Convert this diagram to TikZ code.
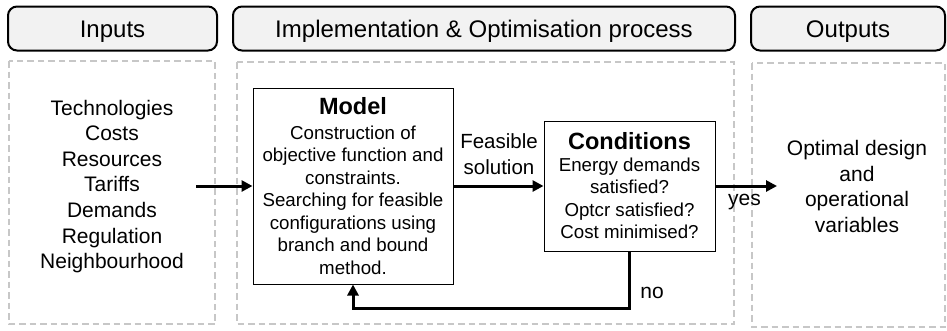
\documentclass[tikz,border=0pt]{standalone}
\usepackage{fontspec}
\setmainfont{Liberation Sans}
\usetikzlibrary{arrows.meta}

% font sizes used across the flow chart
\newcommand{\hdrfont}{\fontsize{24}{28}\selectfont}
\newcommand{\listfont}{\fontsize{21}{25.6}\selectfont}
\newcommand{\bodyfont}{\fontsize{18.7}{22.5}\selectfont}
\newcommand{\ttlfont}{\fontsize{23.5}{27}\selectfont\bfseries}

\tikzset{
  header/.style={draw=black, line width=2pt, rounded corners=9pt, fill=black!5,
    inner sep=0pt, font=\hdrfont, text height=17.2pt, text depth=0pt},
  panel/.style={draw=black!22, line width=2pt, dash pattern=on 6.5pt off 4pt},
  stepbox/.style={draw=black, line width=1pt, fill=white, inner sep=0pt,
    align=center, font=\bodyfont},
  plain/.style={inner sep=0pt, align=center},
  flow/.style={line width=3pt, -{Triangle[length=11pt,width=11pt]}},
}

\begin{document}
\begin{tikzpicture}[x=1pt, y=-1pt]
  \useasboundingbox (0,0) rectangle (947,330);
  \fill[white] (0,0) rectangle (947,330);

  % column headers
  \node[header, minimum width=209, minimum height=44] (hin) at (112.5,28.5) {Inputs};
  \node[header, minimum width=502, minimum height=44] (hproc) at (484,28.5)
    {Implementation \& Optimisation process};
  \node[header, minimum width=194, minimum height=44] (hout) at (848,28.5) {Outputs};

  % dashed column panels
  \draw[panel] (9,61) rectangle (215,324);
  \draw[panel] (237,62) rectangle (734,324);
  \draw[panel] (752,63) rectangle (945,327);

  % inputs
  \node[plain, font=\listfont] (inputs) at (112,186.5)
    {Technologies\\Costs\\Resources\\Tariffs\\Demands\\Regulation\\Neighbourhood};
  \coordinate (instart) at (196,186);

  % model block
  \node[stepbox, minimum width=200, minimum height=196] (model) at (353,186)
    {{\ttlfont Model}\\[2.5pt]Construction of\\objective function and\\constraints.\\
     Searching for feasible\\configurations using\\branch and bound\\method.};

  % conditions block
  \node[stepbox, minimum width=171, minimum height=130] (cond) at (629.5,186)
    {{\ttlfont Conditions}\\[-1pt]Energy demands\\satisfied?\\Optcr satisfied?\\Cost minimised?};

  % outputs
  \node[plain, font=\listfont] (outputs) at (857,186.5)
    {Optimal design\\and\\operational\\variables};

  % connectors
  \coordinate (outend) at (777,186);
  \coordinate (loop) at (0,308);
  \draw[flow] (instart) -- (model.west);
  \draw[flow] (model.east) -- (cond.west);
  \draw[flow] (cond.east) -- (outend);
  \draw[flow] (cond.south) |- (model.south |- loop) -- (model.south);

  % connector labels
  \node[plain, font=\fontsize{20.5}{26}\selectfont] (feas) at (499,154) {Feasible\\solution};
  \node[plain, font=\fontsize{21}{25}\selectfont] (yes) at (744.5,202) {yes};
  \node[plain, font=\fontsize{21}{25}\selectfont] (no) at (652,293) {no};
\end{tikzpicture}
\end{document}
